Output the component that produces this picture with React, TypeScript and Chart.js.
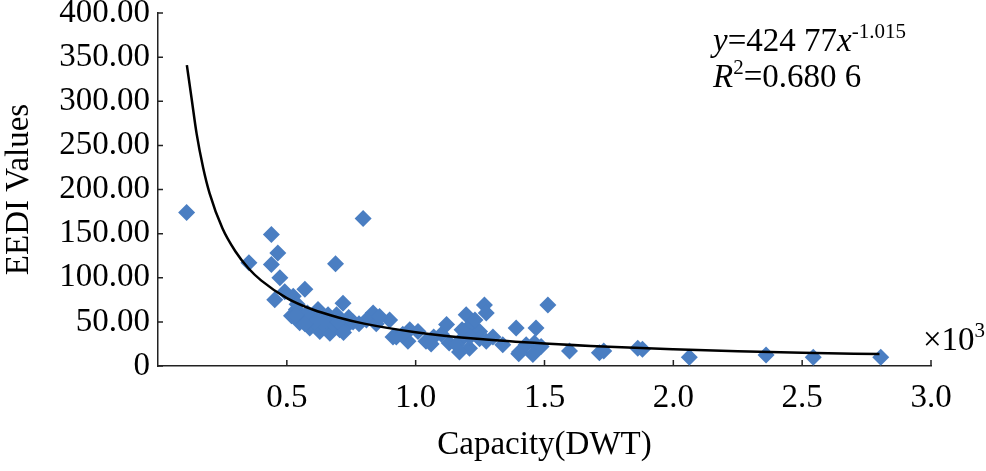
import { useEffect, useRef } from "react";
import { Chart, registerables } from "chart.js";
import type { Plugin } from "chart.js";

Chart.register(...registerables);

// capacity in thousand DWT, EEDI values
const shipCapacity = [
  0.111, 0.353, 0.44, 0.44, 0.465, 0.473, 0.57, 0.689, 0.796,
  0.453, 0.492, 0.525, 0.537, 0.518, 0.55, 0.589, 0.628, 0.667, 0.705,
  0.731, 0.757, 0.621, 0.66, 0.693, 0.718, 0.602, 0.563, 0.641, 0.68,
  0.835, 0.809, 0.899, 0.912, 0.847, 0.58, 0.54, 0.61, 0.65, 0.7, 0.74,
  0.72, 0.57, 0.535, 0.78, 0.86,
  0.925, 0.977, 0.97, 1.009, 1.04, 1.07, 1.12, 1.13, 1.17, 1.196, 1.19,
  1.216, 1.248, 1.267, 1.274, 1.274, 1.248, 1.209, 1.158, 1.338, 1.39,
  1.403, 1.429, 1.467, 1.461, 1.513, 1.597, 1.18, 1.17, 1.455, 1.487,
  1.4, 1.713, 1.73, 1.862, 1.88, 2.062, 2.36, 2.543, 2.805,
  1.23, 1.1, 0.95, 1.3, 1.21, 1.06,
];
const eediValues = [
  174, 117, 149, 115, 128, 100, 87, 116, 167,
  75, 84, 79, 64, 57, 49, 43, 39, 37, 41,
  45, 50, 64, 58, 58, 71, 56, 54, 47, 47,
  60, 52, 52, 33, 48, 60, 70, 50, 52, 50, 55,
  38, 48, 58, 48, 56,
  33, 41, 28, 39, 28, 33, 47, 26, 28, 58, 39,
  47, 39, 69, 60, 28, 31, 20, 24, 24, 43,
  16, 24, 43, 26, 69, 17, 41, 16, 13, 22,
  14, 15, 17, 20, 19, 10, 12.5, 10, 10,
  52, 36, 36, 33, 33, 25,
];

// fitted power curve
const trendX = [
  0.112, 0.13, 0.15, 0.175, 0.2, 0.25, 0.3, 0.35, 0.4, 0.5, 0.6, 0.7, 0.8,
  1.0, 1.25, 1.5, 1.75, 2.0, 2.25, 2.5, 2.8,
];
const trendY = [
  341, 304, 263, 225, 196, 156, 130, 111, 97, 77, 64, 55, 48,
  38.3, 30.5, 25.4, 21.7, 19.0, 16.8, 15.1, 13.5,
];

const yTicks = [0, 50, 100, 150, 200, 250, 300, 350, 400];
const xTicks = [0.5, 1.0, 1.5, 2.0, 2.5, 3.0];

const SERIF = '"Liberation Serif", "Times New Roman", serif';
const TEXT = 33;
const SUP = 21;

const inwardTicks: Plugin = {
  id: "inwardTicks",
  afterDraw(chart) {
    const { ctx, chartArea } = chart;
    const xs = chart.scales.x;
    const ys = chart.scales.y;
    ctx.save();
    ctx.strokeStyle = "#222";
    ctx.lineWidth = 1.5;
    ctx.beginPath();
    yTicks.forEach((v) => {
      const py = ys.getPixelForValue(v);
      ctx.moveTo(chartArea.left, py);
      ctx.lineTo(chartArea.left + 5, py);
    });
    xTicks.forEach((v) => {
      const px = xs.getPixelForValue(v);
      ctx.moveTo(px, chartArea.bottom);
      ctx.lineTo(px, chartArea.bottom - 6);
    });
    ctx.stroke();

    // equation and unit labels
    ctx.fillStyle = "#000";
    ctx.textBaseline = "alphabetic";
    let x = 713;
    const put = (t: string, style: string, size: number, yy: number) => {
      ctx.font = `${style} ${size}px ${SERIF}`;
      ctx.fillText(t, x, yy);
      x += ctx.measureText(t).width;
    };
    put("y", "italic", TEXT, 51);
    put("=424 77", "normal", TEXT, 51);
    put("x", "italic", TEXT, 51);
    put("-1.015", "normal", SUP, 38);

    x = 713;
    put("R", "italic", TEXT, 87);
    put("2", "normal", SUP, 74);
    put("=0.680 6", "normal", TEXT, 87);

    x = 923;
    put("×10", "normal", TEXT, 350);
    put("3", "normal", SUP, 337);
    ctx.restore();
  },
};

export default function App() {
  const chartRef = useRef<HTMLCanvasElement>(null);
  const chartInstance = useRef<Chart | null>(null);

  useEffect(() => {
    if (!chartRef.current) return;
    if (chartInstance.current) {
      chartInstance.current.destroy();
    }
    const ctx = chartRef.current.getContext("2d");
    if (!ctx) return;

    chartInstance.current = new Chart(ctx, {
      type: "scatter",
      data: {
        datasets: [
          {
            type: "line",
            label: "Fit",
            data: trendX.map((v, i) => ({ x: v, y: trendY[i] })),
            borderColor: "#000",
            borderWidth: 2.5,
            pointRadius: 0,
            fill: false,
            tension: 0.4,
            cubicInterpolationMode: "monotone",
          },
          {
            label: "EEDI",
            data: shipCapacity.map((v, i) => ({ x: v, y: eediValues[i] })),
            pointStyle: "rectRot",
            pointRadius: 8.5,
            backgroundColor: "#4a7ec2",
            borderColor: "#4a7ec2",
            borderWidth: 0,
          },
        ],
      },
      options: {
        responsive: true,
        maintainAspectRatio: false,
        animation: false,
        layout: { padding: { top: 13, right: 55, bottom: 0, left: 0 } },
        plugins: {
          legend: { display: false },
          tooltip: { enabled: false },
        },
        scales: {
          x: {
            type: "linear",
            min: 0,
            max: 3,
            grid: { display: false, drawTicks: false },
            border: { display: true, color: "#222", width: 1.5 },
            ticks: {
              stepSize: 0.5,
              padding: 13,
              color: "#000",
              font: { family: SERIF, size: TEXT },
              maxRotation: 0,
              callback: (v) => (Number(v) === 0 ? "" : Number(v).toFixed(1)),
            },
            title: {
              display: true,
              text: "Capacity(DWT)",
              color: "#000",
              font: { family: SERIF, size: TEXT },
              padding: { top: 0, bottom: 6 },
            },
            afterFit: (scale) => {
              scale.height = 105;
              scale.paddingLeft = 0;
              scale.paddingRight = 0;
            },
          },
          y: {
            min: 0,
            max: 400,
            grid: { display: false, drawTicks: false },
            border: { display: true, color: "#222", width: 1.5 },
            ticks: {
              stepSize: 50,
              padding: 8,
              color: "#000",
              font: { family: SERIF, size: TEXT },
              callback: (v) => (Number(v) === 0 ? "0" : Number(v).toFixed(2)),
            },
            title: {
              display: true,
              text: "EEDI Values",
              color: "#000",
              font: { family: SERIF, size: TEXT },
              padding: { top: 0, bottom: 0 },
            },
            afterFit: (scale) => {
              scale.width = 158;
              scale.paddingTop = 0;
              scale.paddingBottom = 0;
            },
          },
        },
      },
      plugins: [inwardTicks],
    });

    return () => {
      if (chartInstance.current) {
        chartInstance.current.destroy();
        chartInstance.current = null;
      }
    };
  }, []);

  return (
    <div
      style={{
        position: "fixed",
        left: 0,
        top: 0,
        width: 986,
        height: 471,
        background: "#fff",
      }}
    >
      <canvas ref={chartRef} />
    </div>
  );
}
